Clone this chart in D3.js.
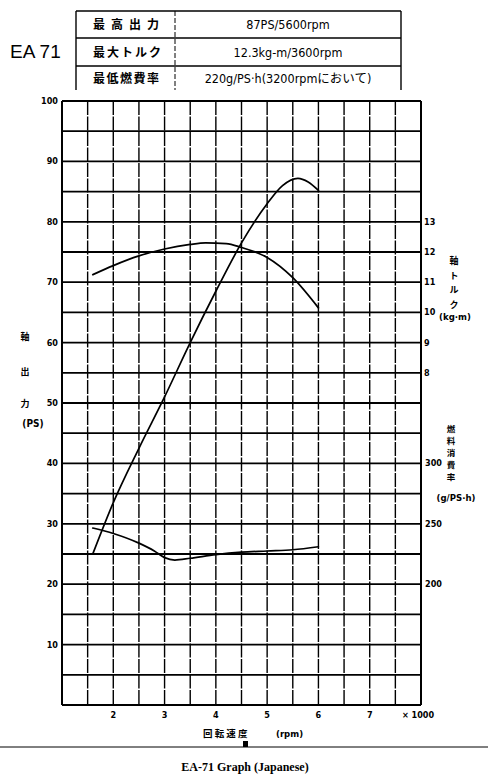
<!DOCTYPE html>
<html><head><meta charset="utf-8">
<script src="https://cdn.jsdelivr.net/npm/d3@7/dist/d3.min.js"></script>
<style>
html,body{margin:0;padding:0;background:#fff;}
svg{display:block;}
</style></head>
<body>
<svg id="chart" width="488" height="780"></svg>
<script>
// ---- data ----
const specLabels = ["最高出力", "最大トルク", "最低燃費率"];
const specValues = ["87PS/5600rpm", "12.3kg-m/3600rpm", "220g/PS·h(3200rpmにおいて)"];

const powerRpm = [1600, 2000, 2500, 3000, 3500, 4000, 4500, 5000, 5300, 5600, 5800, 6000];
const powerPS  = [25, 33.5, 42.5, 51, 60, 68.5, 76.5, 83, 86, 87.2, 86.6, 85.2];

const torqueRpm = [1600, 2000, 2500, 3000, 3500, 3800, 4200, 4500, 5000, 5500, 6000];
const torqueKgm = [11.25, 11.55, 11.87, 12.1, 12.25, 12.3, 12.28, 12.15, 11.82, 11.15, 10.15];

const fuelRpm = [1600, 2000, 2500, 2800, 3000, 3200, 3500, 4000, 4500, 5000, 5500, 6000];
const fuelG   = [246.5, 242, 234, 227.5, 222, 220, 221.5, 224.5, 226.5, 227.5, 228.5, 231];

const psTicks = [10, 20, 30, 40, 50, 60, 70, 80, 90, 100];
const torqueTicks = [8, 9, 10, 11, 12, 13];
const fuelTicks = [200, 250, 300];
const rpmTicks = [2, 3, 4, 5, 6, 7];

// ---- layout ----
const svg = d3.select("#chart");
const L = 62, R = 421, T = 101, B = 705;
const x = d3.scaleLinear().domain([1000, 8000]).range([L, R]);
const y = d3.scaleLinear().domain([0, 100]).range([B, T]);
// right axes mapped onto PS scale
const yT = d3.scaleLinear().domain([8, 13]).range([y(55), y(80)]);
const yF = d3.scaleLinear().domain([200, 300]).range([y(20), y(40)]);

const jp = "'Noto Sans CJK JP', 'Noto Sans CJK SC', sans-serif";
const narrow = "'Liberation Sans Narrow', 'DejaVu Sans Condensed', 'Liberation Sans', sans-serif";

// ---- header table ----
const tx0 = 76, tx1 = 401, tcol = 175, rows = [11, 38, 66, 90];
const hdr = svg.append("g");
hdr.append("line").attr("x1", tx0).attr("x2", tx1).attr("y1", rows[0]).attr("y2", rows[0]).attr("stroke", "#000").attr("stroke-width", 1.6);
hdr.append("line").attr("x1", tx0).attr("x2", tx1).attr("y1", rows[1]).attr("y2", rows[1]).attr("stroke", "#000").attr("stroke-width", 1.4);
hdr.append("line").attr("x1", tx0).attr("x2", tx1).attr("y1", rows[2]).attr("y2", rows[2]).attr("stroke", "#000").attr("stroke-width", 1.4);
hdr.append("line").attr("x1", tx0).attr("x2", tx0).attr("y1", rows[0]).attr("y2", rows[3]).attr("stroke", "#000").attr("stroke-width", 1.4);
hdr.append("line").attr("x1", tx1).attr("x2", tx1).attr("y1", rows[0]).attr("y2", rows[3]).attr("stroke", "#000").attr("stroke-width", 1.4);
hdr.append("line").attr("x1", tcol).attr("x2", tcol).attr("y1", rows[0]).attr("y2", rows[3]).attr("stroke", "#000").attr("stroke-width", 1).attr("stroke-dasharray", "5,2");
specLabels.forEach((s, i) => {
  const cy = (rows[i] + rows[i + 1]) / 2 + 4.5;
  hdr.append("text").attr("x", 93).attr("y", cy).text(s)
    .attr("font-family", jp).attr("font-weight", "bold").attr("font-size", 12)
    .attr("textLength", i === 1 ? 68 : 66).attr("lengthAdjust", "spacing");
  hdr.append("text").attr("x", 288).attr("y", cy).text(specValues[i])
    .attr("text-anchor", "middle").attr("font-family", narrow + ", " + jp).attr("font-size", 12.5);
});
svg.append("text").attr("x", 10).attr("y", 58).text("EA 71")
  .attr("font-family", "'Liberation Sans', Arial, sans-serif").attr("font-size", 19);

// ---- grid ----
const g = svg.append("g");
d3.range(0, 101, 5).forEach(v => {
  g.append("line").attr("x1", L).attr("x2", R).attr("y1", y(v)).attr("y2", y(v))
    .attr("stroke", "#000").attr("stroke-width", 1.8);
});
d3.range(1000, 8001, 500).forEach(v => {
  g.append("line").attr("x1", x(v)).attr("x2", x(v)).attr("y1", T).attr("y2", B)
    .attr("stroke", "#000").attr("stroke-width", (v === 1000 || v === 8000) ? 2 : 1.4)
    .attr("stroke-dasharray", (v === 1000 || v === 8000) ? null : "14,1.5");
});

// ---- axes labels ----
const ax = svg.append("g").attr("font-family", narrow).attr("font-weight", "bold").attr("font-size", 9);
psTicks.forEach(v => ax.append("text").attr("x", 58).attr("y", y(v) + 3).attr("text-anchor", "end").text(v));
torqueTicks.forEach(v => ax.append("text").attr("x", 424).attr("y", yT(v) + 3).text(v));
fuelTicks.forEach(v => ax.append("text").attr("x", 425).attr("y", yF(v) + 3).text(v));
rpmTicks.forEach(v => ax.append("text").attr("x", x(v * 1000)).attr("y", 718).attr("text-anchor", "middle").text(v));
ax.append("text").attr("x", 402).attr("y", 718).text("× 1000");

// left axis title
const lt = svg.append("g").attr("font-family", jp).attr("font-weight", "bold").attr("font-size", 9).attr("text-anchor", "middle");
lt.append("text").attr("x", 25).attr("y", 340).text("軸");
lt.append("text").attr("x", 25).attr("y", 375).text("出");
lt.append("text").attr("x", 25).attr("y", 407).text("力");
lt.append("text").attr("x", 33).attr("y", 427).text("(PS)").attr("font-family", narrow).attr("font-size", 10);

// right torque title
const rt = svg.append("g").attr("font-family", jp).attr("font-weight", "bold").attr("font-size", 9).attr("text-anchor", "middle");
["軸", "ト", "ル", "ク"].forEach((c, i) => rt.append("text").attr("x", 454).attr("y", 264 + i * 14.5).text(c));
rt.append("text").attr("x", 455).attr("y", 320).text("(kg·m)").attr("font-family", narrow).attr("font-size", 9.5);
// right fuel title
["燃", "料", "消", "費", "率"].forEach((c, i) => rt.append("text").attr("x", 451).attr("y", 432 + i * 12).text(c).attr("font-size", 8.5));
rt.append("text").attr("x", 456).attr("y", 501).text("(g/PS·h)").attr("font-family", narrow).attr("font-size", 9.5);

// x axis title
svg.append("text").attr("x", 203).attr("y", 737).text("回 転 速 度")
  .attr("font-family", jp).attr("font-weight", "bold").attr("font-size", 9.5);
svg.append("text").attr("x", 276).attr("y", 737).text("(rpm)")
  .attr("font-family", narrow).attr("font-weight", "bold").attr("font-size", 9.5);
svg.append("rect").attr("x", 243).attr("y", 741).attr("width", 5).attr("height", 6).attr("fill", "#000");

// ---- curves ----
const lineP = d3.line().x(d => x(d[0])).y(d => y(d[1])).curve(d3.curveMonotoneX);
const lineT = d3.line().x(d => x(d[0])).y(d => yT(d[1])).curve(d3.curveMonotoneX);
const lineF = d3.line().x(d => x(d[0])).y(d => yF(d[1])).curve(d3.curveMonotoneX);
const cg = svg.append("g").attr("fill", "none").attr("stroke", "#000").attr("stroke-width", 1.7).attr("stroke-linecap", "round");
cg.append("path").attr("d", lineP(powerRpm.map((r, i) => [r, powerPS[i]])));
cg.append("path").attr("d", lineT(torqueRpm.map((r, i) => [r, torqueKgm[i]])));
cg.append("path").attr("d", lineF(fuelRpm.map((r, i) => [r, fuelG[i]])));

// ---- caption ----
svg.append("line").attr("x1", 0).attr("x2", 488).attr("y1", 747).attr("y2", 747).attr("stroke", "#000").attr("stroke-width", 1);
svg.append("text").attr("x", 245).attr("y", 771).attr("text-anchor", "middle").text("EA-71 Graph (Japanese)")
  .attr("font-family", "'Liberation Serif', 'Times New Roman', serif").attr("font-weight", "bold").attr("font-size", 12);
</script>
</body></html>
